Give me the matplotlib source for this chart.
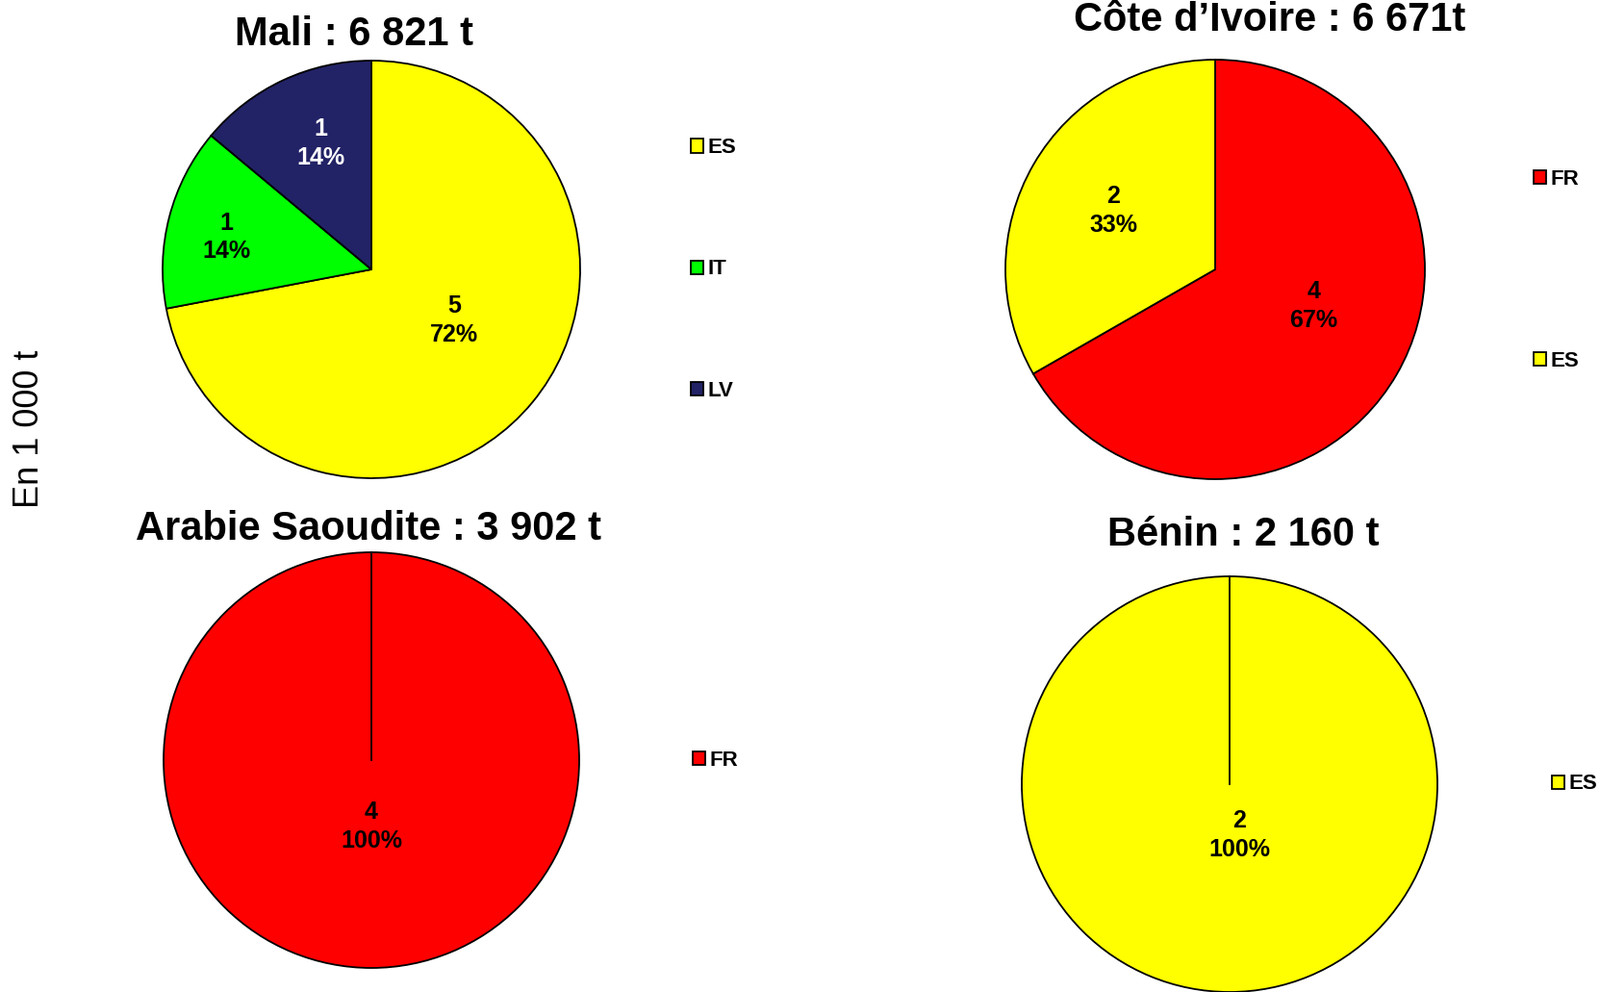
import matplotlib
matplotlib.use("Agg")
import matplotlib.pyplot as plt
import numpy as np

plt.rcParams['font.family'] = ['Liberation Sans', 'DejaVu Sans']

W, H = 1663, 1031

# data (en milliers de tonnes)
titles = ["Mali : 6 821 t", "Côte d\u2019Ivoire : 6 671t",
          "Arabie Saoudite : 3 902 t", "Bénin : 2 160 t"]
mali_labels = ["ES", "IT", "LV"]
mali_values = [4.91, 0.96, 0.95]
civ_labels = ["FR", "ES"]
civ_values = [4.45, 2.22]
ksa_labels = ["FR"]
ksa_values = [3.90]
benin_labels = ["ES"]
benin_values = [2.16]

colors = {"ES": "#FFFF00", "IT": "#00FF00", "LV": "#222266", "FR": "#FF0000"}
text_colors = {"ES": "black", "IT": "black", "LV": "white", "FR": "black"}

# layout in pixels: pie centre, radius, title pos, legend anchor,
# label distance / angle tweak per slice, legend spacing
panels = [
    dict(labels=mali_labels, values=mali_values, title=titles[0],
         c=(386, 280), r=217, t=(368, 36), leg=(718, 280),
         dist=[0.465, 0.71, 0.65], shift=[8, 2, -3], sp=4.73),
    dict(labels=civ_labels, values=civ_values, title=titles[1],
         c=(1263, 280), r=218, t=(1320, 21), leg=(1594, 281),
         dist=[0.5, 0.56], shift=[9.7, 0], sp=7.57),
    dict(labels=ksa_labels, values=ksa_values, title=titles[2],
         c=(386, 790), r=216, t=(383, 550), leg=(720, 790),
         dist=[0.32], shift=[0], sp=1),
    dict(labels=benin_labels, values=benin_values, title=titles[3],
         c=(1278, 815), r=216, t=(1292, 556), leg=(1613, 815),
         dist=[0.25], shift=[11], sp=1),
]

fig = plt.figure(figsize=(W / 100, H / 100), dpi=100)

lim = 1.05
for p in panels:
    cx, cy = p["c"]
    r = p["r"] * lim
    ax = fig.add_axes([(cx - r) / W, 1 - (cy + r) / H, 2 * r / W, 2 * r / H])
    wedges, _ = ax.pie(p["values"], colors=[colors[l] for l in p["labels"]],
                       startangle=90, counterclock=False, radius=1,
                       wedgeprops=dict(edgecolor="black", linewidth=1.3))
    ax.set_xlim(-lim, lim)
    ax.set_ylim(-lim, lim)
    ax.axis("off")
    for w in wedges:
        w.set_clip_on(False)
    if len(p["values"]) == 1:
        ax.plot([0, 0], [0, 1], color="black", lw=1.3)
    total = sum(p["values"])
    for w, v, lab, d, s in zip(wedges, p["values"], p["labels"], p["dist"], p["shift"]):
        mid = np.deg2rad((w.theta1 + w.theta2) / 2 + s)
        ax.text(d * np.cos(mid), d * np.sin(mid),
                f"{round(v)}\n{100 * v / total:.0f}%",
                ha="center", va="center", fontsize=18, fontweight="bold",
                color=text_colors[lab], linespacing=1.3)
    fig.text(p["t"][0] / W, 1 - p["t"][1] / H, p["title"], ha="center", va="center",
             fontsize=30, fontweight="bold")
    ax.legend(wedges, p["labels"], loc="center left",
              bbox_to_anchor=(p["leg"][0] / W, 1 - p["leg"][1] / H),
              bbox_transform=fig.transFigure, frameon=False,
              prop=dict(size=16, weight="bold"), handlelength=0.6, handleheight=0.6,
              handletextpad=0.2, labelspacing=p["sp"], borderpad=0, borderaxespad=0)

fig.text(30 / W, 1 - 446 / H, "En 1 000 t", rotation=90, ha="center", va="center", fontsize=26)

fig.savefig("out.png", dpi=100)
